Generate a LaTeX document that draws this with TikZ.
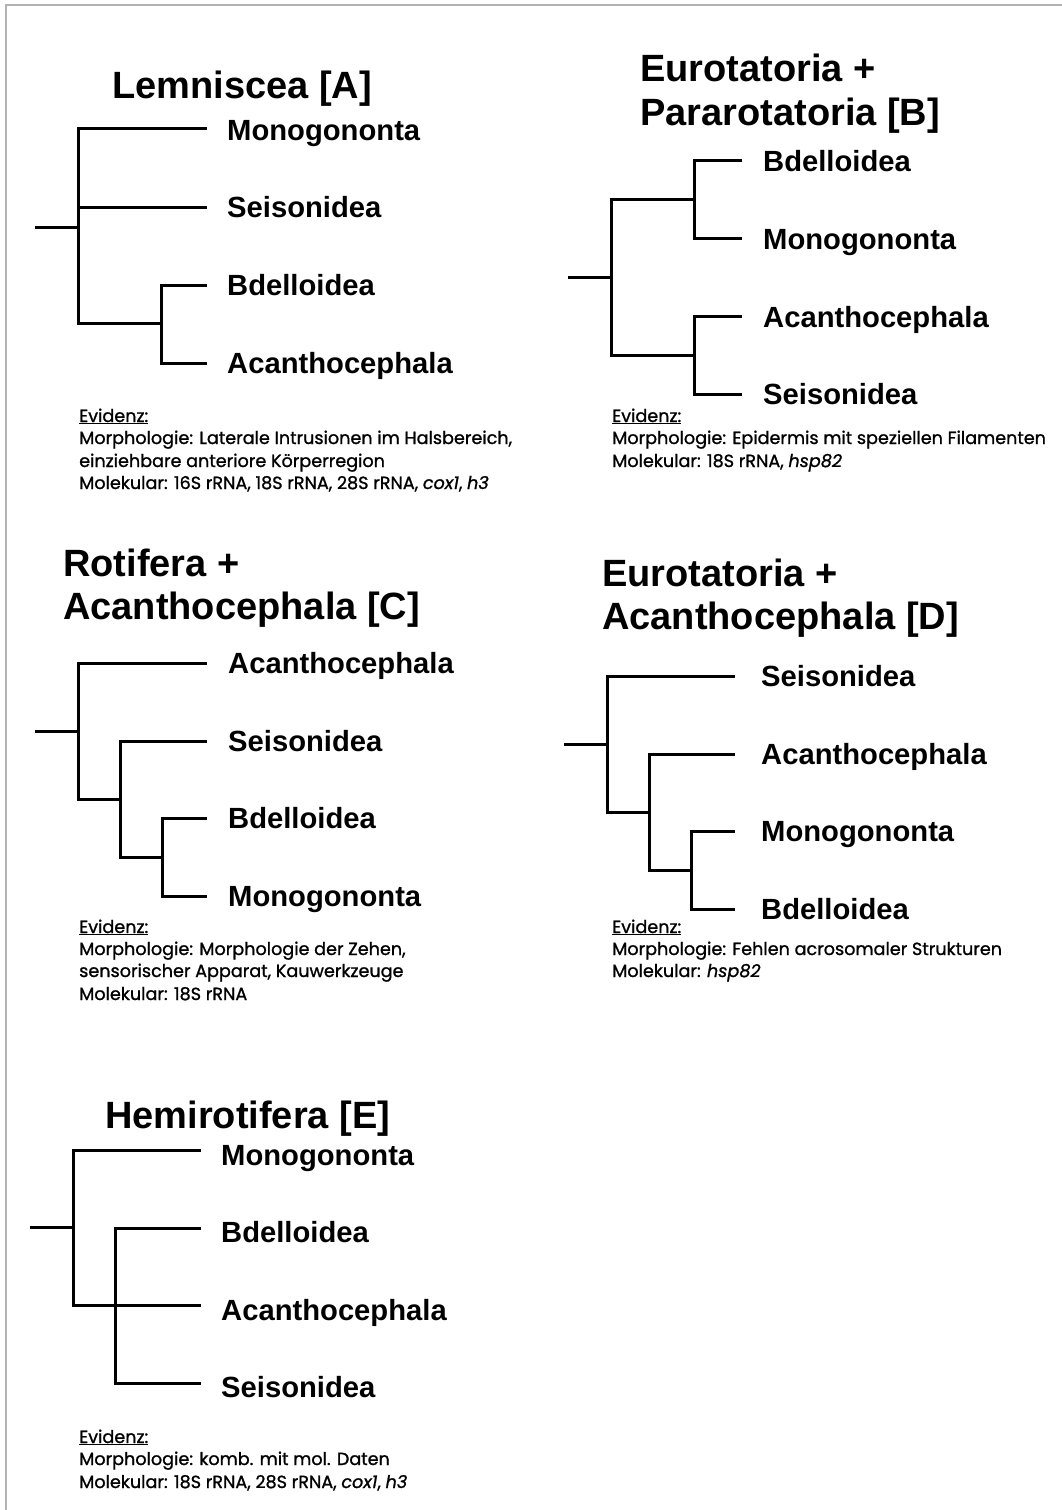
\documentclass[tikz,border=0pt]{standalone}
\usepackage{fontspec}
\setmainfont{Liberation Sans}
\newfontfamily\evfont{Poppins}[FakeBold=1.1]
\begin{document}
\begin{tikzpicture}[x=1pt,y=-1pt,
  branch/.style={line width=3pt,line cap=rect,black},
  frameline/.style={line width=1.6pt,gray!60},
  ttl/.style={anchor=base west,inner sep=0pt,font=\fontsize{38}{44}\selectfont\bfseries},
  taxon/.style={anchor=base west,inner sep=0pt,font=\fontsize{29.2}{32}\selectfont\bfseries},
  evline/.style={anchor=base west,inner sep=0pt,text=black,font=\evfont\fontsize{17.6}{20}\selectfont}]
\useasboundingbox (0,0) rectangle (1062,1510);
\fill[white] (0,0) rectangle (1062,1510);
% page frame (top and left edges)
\coordinate (fTL) at (6,5);
\coordinate (fTR) at (1062,5);
\coordinate (fBL) at (6,1510);
\draw[frameline] (fTR) -- (fTL) -- (fBL);

% ---------------- Panel A: Lemniscea ----------------
\node[ttl] (tA) at (112,98) {Lemniscea [A]};
\coordinate (A0) at (36,227);
\coordinate (A1) at (78,227);
\coordinate (A1t) at (78,128);
\coordinate (A1b) at (78,323);
\coordinate (A2) at (161,323);
\coordinate (A2t) at (161,285);
\coordinate (A2b) at (161,363);
\coordinate (A1m) at (78,207);
\node[taxon] (aMono) at (227,140) {Monogononta};
\node[taxon] (aSeis) at (227,217) {Seisonidea};
\node[taxon] (aBdel) at (227,295) {Bdelloidea};
\node[taxon] (aAcan) at (227,373) {Acanthocephala};
\draw[branch] (A0) -- (A1);
\draw[branch] (A1t) -- (A1b) -- (A2);
\draw[branch] (A1t) -- (205,128);
\draw[branch] (A1m) -- (205,207);
\draw[branch] (A2t) -- (A2b);
\draw[branch] (A2t) -- (205,285);
\draw[branch] (A2b) -- (205,363);
\node[evline] (eA0) at (79,422) {\underline{Evidenz:}};
\node[evline] (eA1) at (79,444) {Morphologie: Laterale Intrusionen im Halsbereich,};
\node[evline] (eA2) at (79,467) {einziehbare anteriore Körperregion};
\node[evline] (eA3) at (79,489) {Molekular: 16S rRNA, 18S rRNA, 28S rRNA, \textit{cox1}, \textit{h3}};

% ---------------- Panel B: Eurotatoria + Pararotatoria ----------------
\node[ttl] (tB1) at (640,81) {Eurotatoria +};
\node[ttl] (tB2) at (640,125) {Pararotatoria [B]};
\coordinate (B0) at (569,277);
\coordinate (B1) at (611,277);
\coordinate (B1t) at (611,199);
\coordinate (B1b) at (611,355);
\coordinate (B2) at (694,199);
\coordinate (B2t) at (694,160);
\coordinate (B2b) at (694,238);
\coordinate (B3) at (694,355);
\coordinate (B3t) at (694,316);
\coordinate (B3b) at (694,394);
\node[taxon] (bBdel) at (763,171) {Bdelloidea};
\node[taxon] (bMono) at (763,249) {Monogononta};
\node[taxon] (bAcan) at (763,327) {Acanthocephala};
\node[taxon] (bSeis) at (763,404) {Seisonidea};
\draw[branch] (B0) -- (B1);
\draw[branch] (B2) -- (B1t) -- (B1b) -- (B3);
\draw[branch] (740,160) -- (B2t) -- (B2b) -- (740,238);
\draw[branch] (740,316) -- (B3t) -- (B3b) -- (740,394);
\node[evline] (eB0) at (612,422) {\underline{Evidenz:}};
\node[evline] (eB1) at (612,444) {Morphologie: Epidermis mit speziellen Filamenten};
\node[evline] (eB2) at (612,467) {Molekular: 18S rRNA, \textit{hsp82}};

% ---------------- Panel C: Rotifera + Acanthocephala ----------------
\node[ttl] (tC1) at (63,576) {Rotifera +};
\node[ttl] (tC2) at (63,619) {Acanthocephala [C]};
\coordinate (C0) at (36,731);
\coordinate (C1) at (78,731);
\coordinate (C1t) at (78,663);
\coordinate (C1b) at (78,799);
\coordinate (C2) at (120,799);
\coordinate (C2t) at (120,741);
\coordinate (C2b) at (120,857);
\coordinate (C3) at (162,857);
\coordinate (C3t) at (162,818);
\coordinate (C3b) at (162,896);
\node[taxon] (cAcan) at (228,673) {Acanthocephala};
\node[taxon] (cSeis) at (228,751) {Seisonidea};
\node[taxon] (cBdel) at (228,828) {Bdelloidea};
\node[taxon] (cMono) at (228,906) {Monogononta};
\draw[branch] (C0) -- (C1);
\draw[branch] (205,663) -- (C1t) -- (C1b) -- (C2);
\draw[branch] (205,741) -- (C2t) -- (C2b) -- (C3);
\draw[branch] (205,818) -- (C3t) -- (C3b) -- (205,896);
\node[evline] (eC0) at (79,933) {\underline{Evidenz:}};
\node[evline] (eC1) at (79,955) {Morphologie: Morphologie der Zehen,};
\node[evline] (eC2) at (79,977) {sensorischer Apparat, Kauwerkzeuge};
\node[evline] (eC3) at (79,1000) {Molekular: 18S rRNA};

% ---------------- Panel D: Eurotatoria + Acanthocephala ----------------
\node[ttl] (tD1) at (602,586) {Eurotatoria +};
\node[ttl] (tD2) at (602,629) {Acanthocephala [D]};
\coordinate (D0) at (565,744);
\coordinate (D1) at (607,744);
\coordinate (D1t) at (607,676);
\coordinate (D1b) at (607,812);
\coordinate (D2) at (649,812);
\coordinate (D2t) at (649,754);
\coordinate (D2b) at (649,870);
\coordinate (D3) at (691,870);
\coordinate (D3t) at (691,831);
\coordinate (D3b) at (691,909);
\node[taxon] (dSeis) at (761,686) {Seisonidea};
\node[taxon] (dAcan) at (761,764) {Acanthocephala};
\node[taxon] (dMono) at (761,841) {Monogononta};
\node[taxon] (dBdel) at (761,919) {Bdelloidea};
\draw[branch] (D0) -- (D1);
\draw[branch] (733,676) -- (D1t) -- (D1b) -- (D2);
\draw[branch] (733,754) -- (D2t) -- (D2b) -- (D3);
\draw[branch] (733,831) -- (D3t) -- (D3b) -- (733,909);
\node[evline] (eD0) at (612,933) {\underline{Evidenz:}};
\node[evline] (eD1) at (612,955) {Morphologie: Fehlen acrosomaler Strukturen};
\node[evline] (eD2) at (612,977) {Molekular: \textit{hsp82}};

% ---------------- Panel E: Hemirotifera ----------------
\node[ttl] (tE) at (105,1128) {Hemirotifera [E]};
\coordinate (E0) at (31,1227);
\coordinate (E1) at (73,1227);
\coordinate (E1t) at (73,1150);
\coordinate (E1b) at (73,1305);
\coordinate (E2) at (115,1305);
\coordinate (E2t) at (115,1228);
\coordinate (E2b) at (115,1383);
\node[taxon] (eMono) at (221,1165) {Monogononta};
\node[taxon] (eBdel) at (221,1242) {Bdelloidea};
\node[taxon] (eAcan) at (221,1320) {Acanthocephala};
\node[taxon] (eSeis) at (221,1397) {Seisonidea};
\draw[branch] (E0) -- (E1);
\draw[branch] (199,1150) -- (E1t) -- (E1b) -- (E2) -- (199,1305);
\draw[branch] (199,1228) -- (E2t) -- (E2b) -- (199,1383);
\node[evline] (eE0) at (79,1443) {\underline{Evidenz:}};
\node[evline] (eE1) at (79,1465) {Morphologie: komb. mit mol. Daten};
\node[evline] (eE2) at (79,1488) {Molekular: 18S rRNA, 28S rRNA, \textit{cox1}, \textit{h3}};
\end{tikzpicture}
\end{document}
